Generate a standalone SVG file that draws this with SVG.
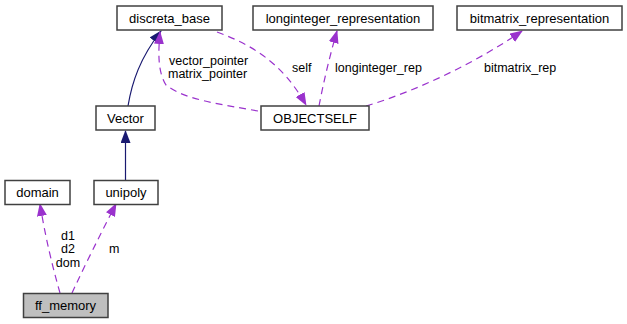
<svg xmlns="http://www.w3.org/2000/svg" width="627" height="324" viewBox="0 0 627 324">
  <style>
    .box { fill: #ffffff; stroke: #404040; stroke-width: 1.5; }
    .cur { fill: #bfbfbf; stroke: #404040; stroke-width: 1.5; }
    text { font-family: "Liberation Sans", Arial, Helvetica, sans-serif; font-size: 13px; fill: #000000; }
    .lbl { font-size: 12.5px; }
    .c { text-anchor: middle; }
    .inh { fill: none; stroke: #191970; stroke-width: 1.2; }
    .use { fill: none; stroke: #9a32cd; stroke-width: 1.2; stroke-dasharray: 7,5; }
  </style>
  <defs>
    <marker id="navyHead" viewBox="0 0 13 10" refX="12" refY="5" markerWidth="13" markerHeight="10" markerUnits="userSpaceOnUse" orient="auto">
      <path d="M0,0 L13,5 L0,10 Z" fill="#191970"/>
    </marker>
    <marker id="purpleHead" viewBox="0 0 13 10" refX="12" refY="5" markerWidth="13" markerHeight="10" markerUnits="userSpaceOnUse" orient="auto">
      <path d="M0,0 L13,5 L0,10 Z" fill="#9a32cd"/>
    </marker>
  </defs>

  <g id="connectors">
    <!-- inheritance -->
    <path class="inh" d="M128,106 C132,82 140,58 161,31" marker-end="url(#navyHead)"/>
    <path class="inh" d="M125.5,181 L125.5,131" marker-end="url(#navyHead)"/>
    <!-- usage relations -->
    <path class="use" d="M258,111 C220,104 185,100 166,85 C158,72 158,55 160,32" marker-end="url(#purpleHead)"/>
    <path class="use" d="M217,32 C250,44 282,62 306,105" marker-end="url(#purpleHead)"/>
    <path class="use" d="M319,106 C324,80 330,55 337,31" marker-end="url(#purpleHead)"/>
    <path class="use" d="M366,106 C420,90 480,60 522,31" marker-end="url(#purpleHead)"/>
    <path class="use" d="M60,293 C52,265 45,235 40,204" marker-end="url(#purpleHead)"/>
    <path class="use" d="M72,293 C85,265 100,235 116,204" marker-end="url(#purpleHead)"/>
    <!-- labels -->
    <text class="lbl" x="169" y="64.5">vector_pointer</text>
    <text class="lbl" x="168" y="78">matrix_pointer</text>
    <text class="lbl" x="292" y="72">self</text>
    <text class="lbl" x="335" y="72">longinteger_rep</text>
    <text class="lbl" x="484" y="72">bitmatrix_rep</text>
    <text class="lbl c" x="68" y="239.5">d1</text>
    <text class="lbl c" x="68" y="253">d2</text>
    <text class="lbl c" x="68" y="266.5">dom</text>
    <text class="lbl" x="109" y="253">m</text>
  </g>

  <g id="discreta_base">
    <rect class="box" x="117" y="6" width="105" height="24"/>
    <text class="c" x="169.5" y="22.5">discreta_base</text>
  </g>
  <g id="longinteger_representation">
    <rect class="box" x="253" y="6" width="180" height="24"/>
    <text class="c" x="343" y="22.5">longinteger_representation</text>
  </g>
  <g id="bitmatrix_representation">
    <rect class="box" x="457" y="6" width="165" height="24"/>
    <text class="c" x="539.5" y="22.5">bitmatrix_representation</text>
  </g>
  <g id="Vector">
    <rect class="box" x="96" y="106" width="59" height="24"/>
    <text class="c" x="125.5" y="122.5">Vector</text>
  </g>
  <g id="OBJECTSELF">
    <rect class="box" x="261" y="106" width="108" height="24"/>
    <text class="c" x="315" y="122.5">OBJECTSELF</text>
  </g>
  <g id="domain">
    <rect class="box" x="5" y="180.5" width="65" height="24"/>
    <text class="c" x="37.5" y="197">domain</text>
  </g>
  <g id="unipoly">
    <rect class="box" x="94" y="180.5" width="64" height="24"/>
    <text class="c" x="126" y="197">unipoly</text>
  </g>
  <g id="ff_memory">
    <rect class="cur" x="23.5" y="293.5" width="84.5" height="24"/>
    <text class="c" x="65.5" y="310">ff_memory</text>
  </g>
</svg>
